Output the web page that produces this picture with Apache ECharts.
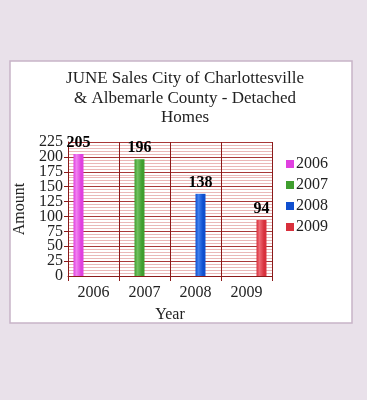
<!DOCTYPE html>
<html><head><meta charset="utf-8">
<script src="https://cdn.jsdelivr.net/npm/echarts@6/dist/echarts.min.js"></script>
<style>html,body{margin:0;padding:0;background:#e9e1ea;}#c{width:367px;height:400px;}</style>
</head><body><div id="c"></div>
<script>
var categories = ['2006','2007','2008','2009'];
var seriesNames = ['2006','2007','2008','2009'];
var values = [205, 196, 138, 94];
var yTicks = [0,25,50,75,100,125,150,175,200,225];
var colors = ['#e040e0','#3f9e2e','#0f4fcf','#d8303c'];
var lights = ['#f080f0','#70c060','#3f7fef','#ee6a74'];

var chart = echarts.init(document.getElementById('c'));
var font = '"Liberation Serif", "DejaVu Serif", serif';
var series = seriesNames.map(function(name, i){
  var d = categories.map(function(c, j){ return j === i ? values[i] : null; });
  return {
    name: name, type: 'bar', data: d, barWidth: 10, barGap: '0%',
    itemStyle: { color: new echarts.graphic.LinearGradient(0,0,1,0,[
      {offset:0,color:colors[i]},{offset:0.3,color:lights[i]},{offset:0.75,color:colors[i]},{offset:1,color:colors[i]}]) },
    label: { show: true, position: 'top', distance: 3, color: '#000', fontFamily: font, fontWeight: 'bold', fontSize: 16 }
  };
});
var yMin = yTicks[0], yMax = yTicks[yTicks.length - 1], yStep = yTicks[1] - yTicks[0];
var labelStyle = { fontFamily: font, fontSize: 16, color: '#222', margin: 5 };
chart.setOption({
  backgroundColor: '#e9e1ea',
  color: colors,
  animation: false,
  graphic: [{ type: 'rect', shape: { x: 10, y: 61, width: 342, height: 262 },
    style: { fill: '#ffffff', stroke: '#c8b4c8', lineWidth: 1.5 }, z: -10 }],
  title: {
    text: 'JUNE Sales City of Charlottesville\n& Albemarle County - Detached\nHomes',
    left: 180, top: 64, textAlign: 'center',
    textStyle: { fontFamily: font, fontWeight: 'normal', fontSize: 17, color: '#222', lineHeight: 19.5 }
  },
  legend: {
    orient: 'vertical', left: 281, top: 151, itemWidth: 8, itemHeight: 8, itemGap: 5,
    icon: 'rect',
    data: seriesNames.map(function(n, i){ return { name: n, itemStyle: { color: colors[i] } }; }),
    textStyle: { fontFamily: font, fontSize: 16, color: '#222', padding: [0,0,0,-3] }
  },
  grid: { left: 68, right: 95, top: 142, bottom: 124, show: false },
  xAxis: {
    type: 'category', data: categories,
    name: 'Year', nameLocation: 'middle', nameGap: 31,
    nameTextStyle: { fontFamily: font, fontSize: 16, color: '#222' },
    axisLine: { show: true, lineStyle: { color: '#8b1a1a' } },
    axisTick: { show: true, length: 5, lineStyle: { color: '#8b1a1a' } },
    axisLabel: { fontFamily: font, fontSize: 16, color: '#222', margin: 9 },
    splitLine: { show: true, lineStyle: { color: '#8b1a1a', width: 1 } }
  },
  yAxis: [{
    type: 'value', min: yMin, max: yMax, interval: yStep,
    name: 'Amount', nameLocation: 'middle', nameGap: 38,
    nameTextStyle: { fontFamily: font, fontSize: 16, color: '#222' },
    axisLine: { show: true, lineStyle: { color: '#8b1a1a' } },
    axisTick: { show: true, length: 4, lineStyle: { color: '#8b1a1a' } },
    axisLabel: Object.assign({ showMinLabel: false, showMaxLabel: false,
      formatter: function(v){ return (v === yMin || v === yMax) ? '' : String(v); } }, labelStyle),
    splitLine: { show: true, lineStyle: { color: '#a83838', width: 1 } },
    minorTick: { show: false, splitNumber: 5 },
    minorSplitLine: { show: true, lineStyle: { color: '#eab8b8', width: 1 } }
  }, {
    type: 'value', min: yMin, max: yMax, interval: yStep, position: 'left',
    axisLine: { show: false }, axisTick: { show: false }, splitLine: { show: false },
    axisLabel: Object.assign({ showMinLabel: true, showMaxLabel: true,
      formatter: function(v){ return (v === yMin || v === yMax) ? String(v) : ''; } }, labelStyle)
  }],
  series: series
});
</script></body></html>
